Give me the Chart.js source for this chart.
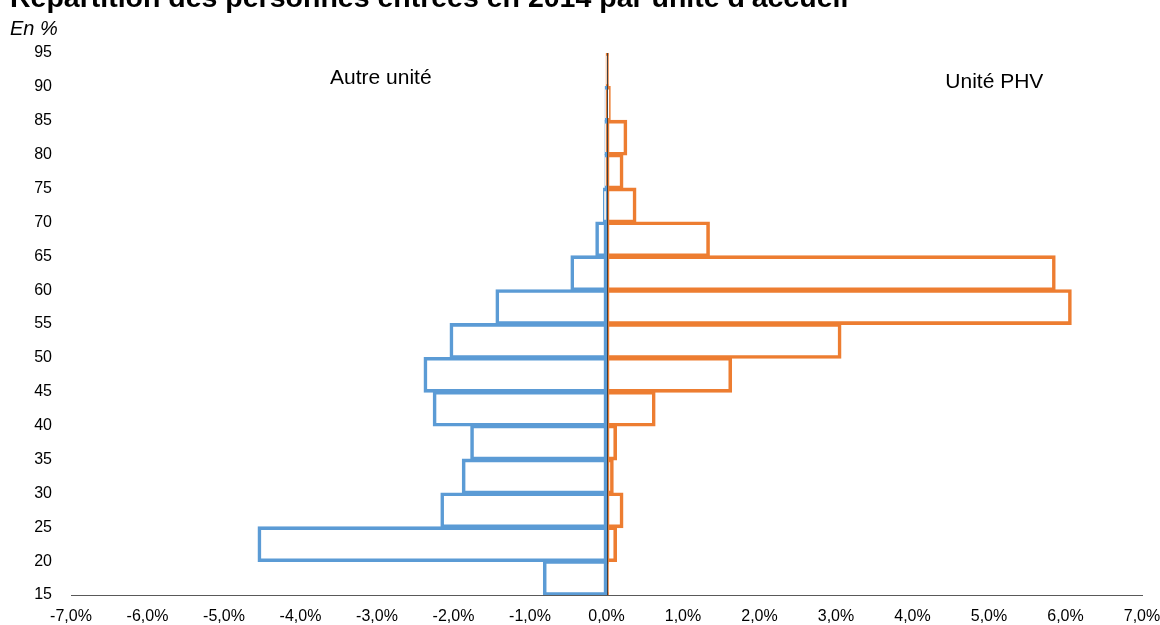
<!DOCTYPE html>
<html lang="fr">
<head>
<meta charset="utf-8">
<title>Répartition des personnes entrées en 2014 par unité d'accueil</title>
<script src="https://cdn.jsdelivr.net/npm/chart.js@4/dist/chart.umd.min.js"></script>
<style>
  html, body { margin: 0; padding: 0; background: #fff; }
  #wrap { width: 1160px; height: 625px; position: relative; }
</style>
</head>
<body>
<div id="wrap"><canvas id="pyramid"></canvas></div>
<script>
// age bands (lower bound of each 5-year band), bars sit between the ticks
const ageStarts = [15, 20, 25, 30, 35, 40, 45, 50, 55, 60, 65, 70, 75, 80, 85, 90];
// share of entrants, in %, negative = left side
const autreUnite = [-0.82, -4.55, -2.16, -1.88, -1.77, -2.26, -2.38, -2.04, -1.44, -0.46, -0.135, -0.035, -0.015, -0.015, -0.013, 0];
const unitePHV   = [0.02, 0.126, 0.21, 0.083, 0.126, 0.63, 1.63, 3.06, 6.07, 5.86, 1.34, 0.38, 0.21, 0.26, 0.044, 0.02];
const seriesNames = ['Autre unité', 'Unité PHV'];
const titleText = "Répartition des personnes entrées en 2014 par unité d'accueil";
const unitText = 'En %';

const BLUE = '#5B9BD5';
const ORANGE = '#ED7D31';
const tickFont = { family: "'Liberation Sans', Arial, sans-serif", size: 16 };

const toPoints = vals => vals.map((v, i) => ({ x: v, y: ageStarts[i] + 2.5 }));

// title, unit, in-plot series names, zero axis
const decor = {
    id: 'decor',
    afterDatasetsDraw(chart) {
        const { ctx, chartArea, scales } = chart;
        const x0 = scales.x.getPixelForValue(0);
        ctx.save();
        ctx.strokeStyle = '#404040';
        ctx.lineWidth = 1;
        ctx.beginPath();
        ctx.moveTo(Math.round(x0) + 0.5, chartArea.top);
        ctx.lineTo(Math.round(x0) + 0.5, chartArea.bottom);
        ctx.stroke();
        ctx.restore();
    },
    afterDraw(chart) {
        const { ctx, scales } = chart;
        ctx.save();
        ctx.fillStyle = '#000';
        ctx.textBaseline = 'alphabetic';
        ctx.textAlign = 'left';
        ctx.font = "bold 28.5px 'Liberation Sans', Arial, sans-serif";
        ctx.fillText(titleText, 10, 7);
        ctx.font = "italic 20px 'Liberation Sans', Arial, sans-serif";
        ctx.fillText(unitText, 10, 35);

        ctx.font = "21px 'Liberation Sans', Arial, sans-serif";
        ctx.textAlign = 'center';
        const yb = scales.y.getPixelForValue(90);
        ctx.fillText(seriesNames[0], scales.x.getPixelForValue(-2.95), yb - 3);
        ctx.fillText(seriesNames[1], scales.x.getPixelForValue(5.07), yb + 1);
        ctx.restore();
    }
};

const ctx = document.getElementById('pyramid').getContext('2d');
new Chart(ctx, {
    type: 'bar',
    data: {
        datasets: [{
            label: seriesNames[0],
            data: toPoints(autreUnite),
            backgroundColor: 'rgba(255,255,255,0)',
            borderColor: BLUE,
            borderWidth: 1.8,
            borderSkipped: false,
            inflateAmount: 0.9,
            grouped: false,
            barPercentage: 1,
            categoryPercentage: 1
        }, {
            label: seriesNames[1],
            data: toPoints(unitePHV),
            backgroundColor: 'rgba(255,255,255,0)',
            borderColor: ORANGE,
            borderWidth: 1.8,
            borderSkipped: false,
            inflateAmount: 0.9,
            grouped: false,
            barPercentage: 1,
            categoryPercentage: 1
        }]
    },
    options: {
        indexAxis: 'y',
        responsive: true,
        maintainAspectRatio: false,
        animation: false,
        layout: { padding: { top: 53, right: 18, left: 0, bottom: 0 } },
        plugins: {
            legend: { display: false },
            tooltip: { enabled: false }
        },
        scales: {
            x: {
                type: 'linear',
                min: -7,
                max: 7,
                offset: false,
                grid: { display: false, drawTicks: false },
                border: { display: true, color: '#595959', width: 1 },
                ticks: {
                    stepSize: 1,
                    color: '#000',
                    font: tickFont,
                    padding: 12,
                    maxRotation: 0,
                    callback: v => v.toFixed(1).replace('.', ',') + '%'
                },
                afterFit: s => {
                    s.height = 30;
                    s.paddingLeft = 0;
                    s.paddingRight = 0;
                }
            },
            y: {
                type: 'linear',
                min: 15,
                max: 95,
                offset: false,
                grid: { display: false, drawTicks: false },
                border: { display: false },
                ticks: {
                    stepSize: 5,
                    color: '#000',
                    font: tickFont,
                    padding: 19
                },
                afterFit: s => { s.width = 71; }
            }
        }
    },
    plugins: [decor]
});
</script>
</body>
</html>
